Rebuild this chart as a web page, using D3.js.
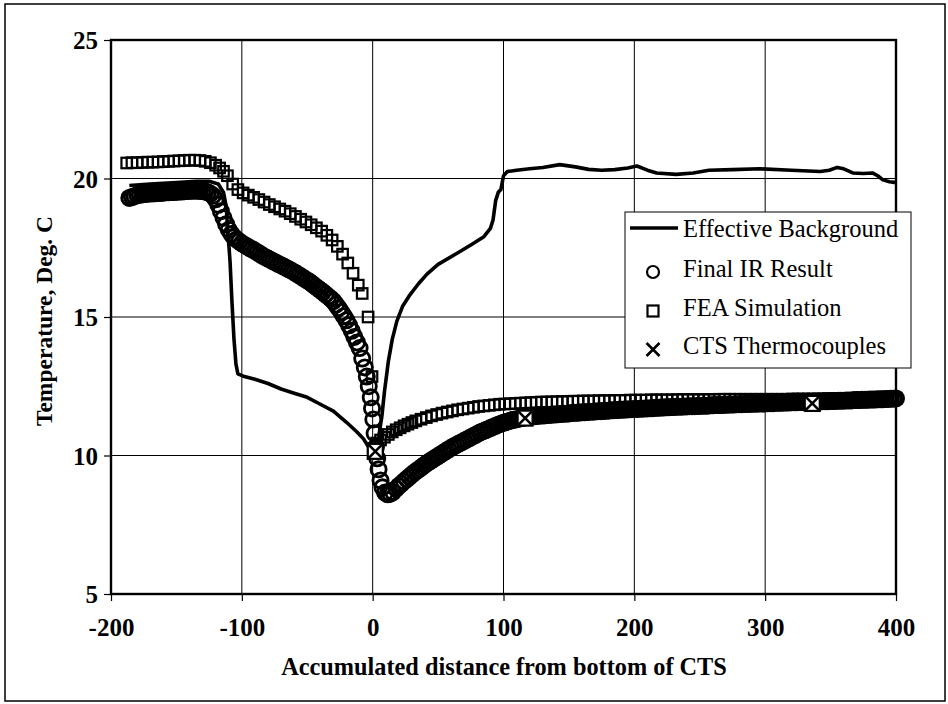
<!DOCTYPE html>
<html><head><meta charset="utf-8">
<script src="https://cdn.jsdelivr.net/npm/d3@7"></script>
<style>body{margin:0;background:#fff}svg{display:block}</style>
</head><body>
<svg id="c" width="948" height="704"></svg>
<script>
// ---------- DATA ----------
const xTicks = [-200, -100, 0, 100, 200, 300, 400];
const yTicks = [5, 10, 15, 20, 25];
const legendLabels = ["Effective Background", "Final IR Result", "FEA Simulation", "CTS Thermocouples"];

const backgroundData = [
[-186,19.75],[-170,19.8],[-150,19.85],[-135,19.9],[-125,19.9],[-118,19.8],[-114,19.5],[-112,19.0],
[-111,18.3],[-109,17.0],[-107.5,15.5],[-106,14.2],[-104.5,13.3],[-103,12.95],[-98,12.85],[-90,12.75],
[-80,12.6],[-70,12.4],[-60,12.25],[-50,12.1],[-40,11.85],[-30,11.6],[-20,11.2],[-12,10.85],[-7,10.6],
[-3,10.3],[0,10.1],[2,10.0],[4,10.3],[5,10.8],[7,11.4],[9,12.3],[12,13.4],[15,14.2],[18.5,14.85],
[23,15.4],[28.5,15.8],[35,16.2],[41.5,16.55],[50,16.9],[64.5,17.3],[75,17.6],[85,17.9],[90,18.2],
[92,18.5],[94,19.2],[96,19.5],[98,19.6],[100,20.1],[103,20.25],[110,20.3],[120,20.35],[130,20.4],
[143,20.5],[155,20.42],[165,20.33],[175,20.3],[185,20.32],[195,20.38],[202,20.45],[210,20.3],
[217,20.2],[232,20.15],[245,20.2],[257,20.3],[275,20.32],[296,20.35],[320,20.3],[342,20.25],
[349,20.3],[355,20.4],[360,20.35],[367,20.2],[375,20.18],[382,20.2],[386,20.1],[390,19.95],[395,19.88],[400,19.85]
];

const irData = [
[-186,19.30],[-184,19.33],[-182,19.36],[-180,19.40],[-178,19.41],[-176,19.43],[-174,19.44],[-172,19.45],
[-170,19.46],[-168,19.46],[-166,19.47],[-164,19.48],[-162,19.48],[-160,19.49],[-158,19.50],[-156,19.50],
[-154,19.51],[-152,19.51],[-150,19.52],[-148,19.53],[-146,19.53],[-144,19.54],[-142,19.55],[-140,19.55],
[-138,19.56],[-136,19.56],[-134,19.56],[-132,19.55],[-130,19.55],[-128,19.53],[-126,19.50],[-124,19.45],
[-122,19.38],[-120,19.25],[-118,19.05],[-116,18.82],[-114,18.58],[-112,18.35],[-110,18.15],[-108,18.00],
[-106,17.88],[-104,17.80],[-102,17.73],[-100,17.66],[-98,17.60],[-96,17.55],[-94,17.49],[-92,17.44],
[-90,17.39],[-88,17.33],[-86,17.27],[-84,17.21],[-82,17.16],[-80,17.11],[-78,17.06],[-76,17.01],
[-74,16.96],[-72,16.91],[-70,16.87],[-68,16.82],[-66,16.77],[-64,16.72],[-62,16.67],[-60,16.62],
[-58,16.56],[-56,16.50],[-54,16.44],[-52,16.38],[-50,16.32],[-48,16.26],[-46,16.19],[-44,16.11],
[-42,16.04],[-40,15.97],[-38,15.90],[-36,15.82],[-34,15.74],[-32,15.66],[-30,15.57],[-28,15.45],
[-26,15.32],[-24,15.18],[-22,15.03],[-20,14.88],[-18,14.70],[-16,14.50],[-14,14.28],[-12,14.08],
[-10,13.88],[-8,13.50],[-6,13.18],[-4.5,12.85],[-3,12.50],[-1.5,12.10],[-0.5,11.70],[0.5,11.30],
[1.5,10.80],[2.5,10.30],[3.5,9.90],[4.5,9.50],[6,9.10],[7.5,8.85],[9.5,8.66],[11.5,8.60],
[13.5,8.62],[15.5,8.68],[18,8.80],[20,8.90],[22,8.98],[24,9.07],[26,9.15],[28,9.23],
[30,9.31],[32,9.39],[34,9.46],[36,9.53],[38,9.60],[40,9.67],[42,9.74],[44,9.80],
[46,9.86],[48,9.92],[50,9.98],[52,10.04],[54,10.10],[56,10.16],[58,10.22],[60,10.28],
[62,10.33],[64,10.38],[66,10.43],[68,10.48],[70,10.53],[72,10.58],[74,10.63],[76,10.68],
[78,10.73],[80,10.78],[82,10.83],[84,10.87],[86,10.91],[88,10.95],[90,10.99],[92,11.03],
[94,11.07],[96,11.11],[98,11.15],[100,11.18],[102,11.21],[104,11.24],[106,11.27],[108,11.29],
[110,11.31],[112,11.33],[114,11.35],[116,11.37],[118,11.39],[120,11.40],[122,11.41],[124,11.42],
[126,11.43],[128,11.44],[130,11.44],[132,11.45],[134,11.46],[136,11.47],[138,11.48],[140,11.48],
[142,11.49],[144,11.50],[146,11.51],[148,11.51],[150,11.52],[152,11.53],[154,11.54],[156,11.54],
[158,11.55],[160,11.56],[162,11.56],[164,11.57],[166,11.58],[168,11.58],[170,11.59],[172,11.60],
[174,11.60],[176,11.61],[178,11.62],[180,11.62],[182,11.63],[184,11.63],[186,11.64],[188,11.65],
[190,11.65],[192,11.66],[194,11.66],[196,11.67],[198,11.67],[200,11.68],[202,11.68],[204,11.69],
[206,11.69],[208,11.70],[210,11.70],[212,11.71],[214,11.71],[216,11.72],[218,11.72],[220,11.73],
[222,11.73],[224,11.74],[226,11.74],[228,11.75],[230,11.75],[232,11.76],[234,11.76],[236,11.76],
[238,11.77],[240,11.77],[242,11.78],[244,11.78],[246,11.78],[248,11.79],[250,11.79],[252,11.80],
[254,11.80],[256,11.80],[258,11.81],[260,11.81],[262,11.82],[264,11.82],[266,11.82],[268,11.83],
[270,11.83],[272,11.84],[274,11.84],[276,11.84],[278,11.85],[280,11.85],[282,11.85],[284,11.86],
[286,11.86],[288,11.86],[290,11.87],[292,11.87],[294,11.87],[296,11.88],[298,11.88],[300,11.88],
[302,11.89],[304,11.89],[306,11.89],[308,11.90],[310,11.90],[312,11.90],[314,11.91],[316,11.91],
[318,11.91],[320,11.92],[322,11.92],[324,11.92],[326,11.93],[328,11.93],[330,11.93],[332,11.94],
[334,11.94],[336,11.94],[338,11.95],[340,11.95],[342,11.95],[344,11.96],[346,11.96],[348,11.96],
[350,11.97],[352,11.97],[354,11.97],[356,11.98],[358,11.98],[360,11.98],[362,11.99],[364,11.99],
[366,11.99],[368,12.00],[370,12.00],[372,12.00],[374,12.01],[376,12.01],[378,12.01],[380,12.02],
[382,12.02],[384,12.02],[386,12.03],[388,12.03],[390,12.03],[392,12.04],[394,12.04],[396,12.05],
[398,12.05],[400,12.06]
];

const feaData = [
[-188,20.56],[-184,20.57],[-180,20.57],[-176,20.58],[-172,20.59],[-168,20.59],[-164,20.60],[-160,20.61],
[-156,20.62],[-152,20.63],[-148,20.64],[-144,20.65],[-140,20.66],[-136,20.66],[-132,20.65],[-128,20.62],
[-124,20.57],[-120,20.48],[-117,20.38],[-114,20.26],[-111,20.10],[-107,19.80],[-103,19.60],[-99,19.48],
[-95,19.40],[-91,19.32],[-87,19.24],[-83,19.15],[-79,19.06],[-75,18.98],[-71,18.90],[-67,18.82],
[-63,18.73],[-59,18.63],[-55,18.53],[-51,18.43],[-47,18.33],[-43,18.22],[-39,18.10],[-35,17.95],
[-31,17.78],[-27,17.55],[-23,17.27],[-19,16.95],[-15,16.58],[-11,16.15],[-8,15.85],[-3.5,15.0],
[-0.5,12.85],[0.5,10.25],[3,10.45],[6,10.56],[9,10.66],[12,10.76],[15,10.85],[18,10.93],
[21,11.00],[24,11.07],[27,11.13],[30,11.19],[33,11.25],[37,11.31],[41,11.37],[45,11.43],
[49,11.48],[53,11.53],[57,11.57],[61,11.61],[65,11.65],[69,11.68],[73,11.71],[77,11.74],
[81,11.77],[85,11.79],[89,11.81],[93,11.83],[97,11.85],[101,11.86],[105,11.87],[109,11.88],
[113,11.89],[117,11.90],[121,11.91],[125,11.92],[129,11.93],[133,11.93],[137,11.94],[141,11.94],
[145,11.95],[149,11.95],[153,11.96],[157,11.96],[161,11.97],[165,11.97],[169,11.97],[173,11.98],
[177,11.98],[181,11.98],[185,11.99],[189,11.99],[193,11.99],[197,12.00],[201,12.00],[205,12.00],
[209,12.00],[213,12.01],[217,12.01],[221,12.01],[225,12.01],[229,12.01],[233,12.02],[237,12.02],
[241,12.02],[245,12.02],[249,12.02],[253,12.02],[257,12.02],[261,12.02],[265,12.03],[269,12.03],
[273,12.03],[277,12.03],[281,12.03],[285,12.03],[289,12.03],[293,12.03],[297,12.03],[301,12.03],
[305,12.03],[309,12.03],[313,12.03],[317,12.03],[321,12.04],[325,12.04],[329,12.04],[333,12.04],
[337,12.04],[341,12.04],[345,12.04],[349,12.05],[353,12.05],[357,12.05],[361,12.05],[365,12.05],
[369,12.05],[373,12.06],[377,12.06],[381,12.06],[385,12.06],[389,12.06],[393,12.07],[397,12.07],[400,12.07]
];

const ctsData = [[2,10.15],[116.5,11.35],[336,11.88]];

// ---------- CHART ----------
const svg = d3.select("#c");
const serif = "'Liberation Serif','Times New Roman',Times,serif";
const L = 111, R = 896, T = 40, B = 594;
const x = d3.scaleLinear().domain([-200, 400]).range([L, R]);
const y = d3.scaleLinear().domain([5, 25]).range([B, T]);

// outer frame
svg.append("rect").attr("x",5).attr("y",4).attr("width",940).attr("height",697)
  .attr("fill","none").attr("stroke","#000").attr("stroke-width",1.5);

// grid
const grid = svg.append("g").attr("stroke","#000").attr("stroke-width",1);
grid.selectAll(".gx").data(xTicks).join("line")
  .attr("x1",d=>x(d)).attr("x2",d=>x(d)).attr("y1",T).attr("y2",B);
grid.selectAll(".gy").data(yTicks).join("line")
  .attr("x1",L).attr("x2",R).attr("y1",d=>y(d)).attr("y2",d=>y(d));

// axes
const xAxis = svg.append("g").attr("transform",`translate(0,${B})`)
  .call(d3.axisBottom(x).tickValues(xTicks).tickSize(7).tickSizeOuter(0));
xAxis.selectAll("text").attr("y",33).attr("dy","0.35em");
const yAxis = svg.append("g").attr("transform",`translate(${L},0)`)
  .call(d3.axisLeft(y).tickValues(yTicks).tickSize(7).tickSizeOuter(0));
yAxis.selectAll("text").attr("x",-13).attr("dy","0.35em");
[xAxis,yAxis].forEach(a=>{
  a.select(".domain").remove();
  a.selectAll("line").attr("stroke","#000").attr("stroke-width",1.2);
  a.selectAll("text").attr("font-family",serif).attr("font-weight","bold")
    .attr("font-size",25).attr("fill","#000").text(d=>String(d));
});

// plot frame
svg.append("rect").attr("x",L).attr("y",T).attr("width",R-L).attr("height",B-T)
  .attr("fill","none").attr("stroke","#000").attr("stroke-width",2.4);

// effective background line
svg.append("path").datum(backgroundData)
  .attr("d", d3.line().x(d=>x(d[0])).y(d=>y(d[1])))
  .attr("fill","none").attr("stroke","#000").attr("stroke-width",3.6).attr("stroke-linejoin","round");

// IR circles
svg.append("g").selectAll("circle").data(irData).join("circle")
  .attr("cx",d=>x(d[0])).attr("cy",d=>y(d[1])).attr("r",7.6)
  .attr("fill","none").attr("stroke","#000").attr("stroke-width",2.8);

// FEA squares
const sq = 10.5;
svg.append("g").selectAll("rect").data(feaData).join("rect")
  .attr("x",d=>x(d[0])-sq/2).attr("y",d=>y(d[1])-sq/2).attr("width",sq).attr("height",sq)
  .attr("fill","none").attr("stroke","#000").attr("stroke-width",2.2);

// CTS X markers
const cts = svg.append("g").selectAll("g").data(ctsData).join("g")
  .attr("transform",d=>`translate(${x(d[0])},${y(d[1])})`);
cts.append("rect").attr("x",-7.5).attr("y",-7.5).attr("width",15).attr("height",15)
  .attr("fill","#fff").attr("stroke","#000").attr("stroke-width",2.2);
cts.append("path").attr("d","M-6.5,-6.5L6.5,6.5M-6.5,6.5L6.5,-6.5").attr("stroke","#000").attr("stroke-width",2.6);

// legend
const lg = svg.append("g");
lg.append("rect").attr("x",625).attr("y",212).attr("width",286).attr("height",156)
  .attr("fill","#fff").attr("stroke","#000").attr("stroke-width",1);
const rows = [228, 268, 307, 345];
const mx = 653;
lg.append("line").attr("x1",630).attr("x2",678).attr("y1",rows[0]).attr("y2",rows[0])
  .attr("stroke","#000").attr("stroke-width",3.6);
lg.append("circle").attr("cx",mx).attr("cy",rows[1]+4).attr("r",6)
  .attr("fill","none").attr("stroke","#000").attr("stroke-width",2.2);
lg.append("rect").attr("x",mx-5.5).attr("y",rows[2]+4-5.5).attr("width",11).attr("height",11)
  .attr("fill","none").attr("stroke","#000").attr("stroke-width",2.2);
lg.append("path").attr("d",`M${mx-6.5},${rows[3]-2}L${mx+6.5},${rows[3]+11}M${mx-6.5},${rows[3]+11}L${mx+6.5},${rows[3]-2}`)
  .attr("stroke","#000").attr("stroke-width",2.6);
lg.selectAll("text").data(legendLabels).join("text")
  .attr("x",683).attr("y",(d,i)=>rows[i]).attr("dy","0.35em")
  .attr("font-family",serif).attr("font-size",24.5).attr("fill","#000").text(d=>d);

// axis titles
svg.append("text").attr("x",504).attr("y",666).attr("dy","0.35em").attr("text-anchor","middle")
  .attr("font-family",serif).attr("font-weight","bold").attr("font-size",24.3)
  .text("Accumulated distance from bottom of CTS");
svg.append("text").attr("transform","translate(44,321) rotate(-90)").attr("dy","0.35em")
  .attr("text-anchor","middle").attr("font-family",serif).attr("font-weight","bold").attr("font-size",23.5)
  .text("Temperature, Deg. C");
</script>
</body></html>
